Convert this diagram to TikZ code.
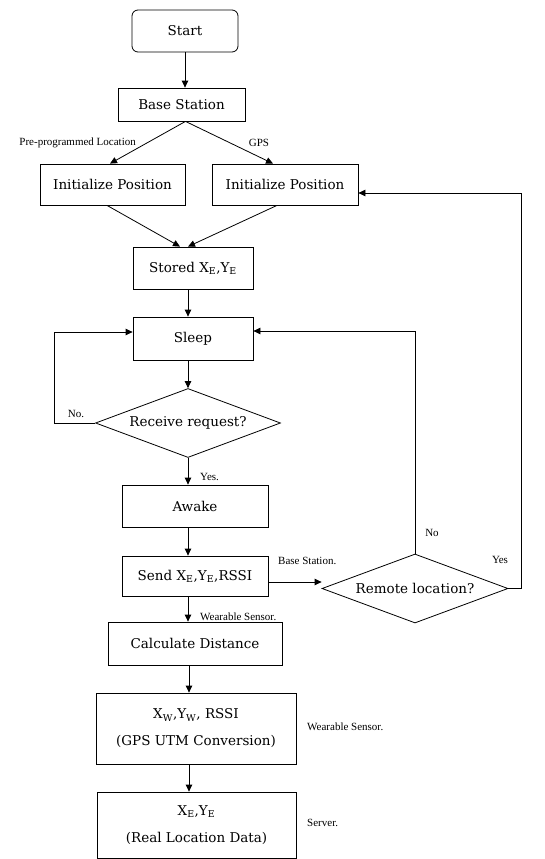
\documentclass[tikz,border=0pt]{standalone}
\usepackage{fontspec}
\setmainfont{DejaVu Serif}
\newfontfamily\labfont{Liberation Serif}
\usetikzlibrary{shapes.geometric,arrows.meta}
\begin{document}
\begin{tikzpicture}[x=1pt,y=-1pt,
  box/.style={draw, line width=0.8pt, inner sep=0pt, align=center,
    font=\fontsize{13.5}{27}\selectfont},
  decision/.style={draw, line width=0.8pt, diamond, inner sep=0pt, aspect=2.68,
    font=\fontsize{13.5}{16}\selectfont},
  arr/.style={line width=0.8pt, -{Triangle[length=7pt,width=6.5pt]}},
  lab/.style={font=\labfont\fontsize{11}{13}\selectfont, inner sep=0pt}]
\useasboundingbox (0,0) rectangle (545,859);

% main column of steps
\node[box, rounded corners=6pt, minimum width=106pt, minimum height=42pt] (start) at (185,31) {Start};
\node[box, minimum width=127pt, minimum height=33pt] (base) at (181.5,104.5) {Base Station};
\node[box, minimum width=145pt, minimum height=41pt] (initL) at (112.5,184.5) {Initialize Position};
\node[box, minimum width=146pt, minimum height=41pt] (initR) at (285,184.5) {Initialize Position};
\node[box, minimum width=120pt, minimum height=42pt] (stored) at (193,268) {Stored X\textsubscript{E},Y\textsubscript{E}};
\node[box, minimum width=120pt, minimum height=43pt] (sleep) at (193,338.5) {Sleep};
\node[decision, minimum width=185pt, minimum height=69pt] (recv) at (188,423) {Receive request?};
\node[box, minimum width=146pt, minimum height=42pt] (awake) at (195,506) {Awake};
\node[box, minimum width=146pt, minimum height=40pt] (send) at (195,576) {Send X\textsubscript{E},Y\textsubscript{E},RSSI};
\node[decision, minimum width=186pt, minimum height=69pt] (remote) at (415,588.5) {Remote location?};
\node[box, minimum width=174pt, minimum height=43pt] (calc) at (195,643.5) {Calculate Distance};
\node[box, minimum width=200pt, minimum height=71pt] (xw) at (196,728.5) {X\textsubscript{W},Y\textsubscript{W}, RSSI\\(GPS UTM Conversion)};
\node[box, minimum width=199pt, minimum height=66pt] (xe) at (196.5,825) {X\textsubscript{E},Y\textsubscript{E}\\(Real Location Data)};

% vertical spine of the flow
\coordinate (spine) at (188,0);

\draw[arr] (start.south -| 185,0) -- (base.north -| 185,0);
\draw[arr] ([xshift=4pt]base.south) -- (initL.north -| 110,0);
\draw[arr] ([xshift=4pt]base.south) -- (initR.north -| 273,0);
\draw[arr] (initL.south -| 107,0) -- (stored.north -| 180,0);
\draw[arr] (initR.south -| 277,0) -- (stored.north -| 188,0);
\draw[arr] (stored.south -| spine) -- (sleep.north -| spine);
\draw[arr] (sleep.south -| spine) -- (recv.north);
\draw[arr] (recv.south) -- (awake.north -| spine);
\draw[arr] (awake.south -| spine) -- (send.north -| spine);
\draw[arr] (send.south -| spine) -- (calc.north -| spine);
\draw[arr] (calc.south -| 189,0) -- (xw.north -| 189,0);
\draw[arr] (xw.south -| 189,0) -- (xe.north -| 189,0);

% loops back to earlier steps
\draw[arr] (recv.west) -- (54,423) |- ([yshift=6.5pt]sleep.west);
\draw[arr] (remote.north) |- ([yshift=7.5pt]sleep.east);
\draw[arr] (remote.east) -- (521,588.5) |- ([yshift=-8.5pt]initR.east);
\draw[arr] ([yshift=-6pt]send.east) coordinate (s1) -- (s1 -| remote.west);

% branch labels
\node[lab, anchor=east] (lpre) at (136,143) {Pre-programmed Location};
\node[lab] (lgps) at (259,143) {GPS};
\node[lab] (lno1) at (76,414) {No.};
\node[lab, anchor=west] (lyes1) at (200,477) {Yes.};
\node[lab] (lno2) at (432,533) {No};
\node[lab] (lyes2) at (500,560) {Yes};
\node[lab, anchor=west] (lbase) at (278,561) {Base Station.};
\node[lab, anchor=west] (lws1) at (200,617) {Wearable Sensor.};
\node[lab, anchor=west] (lws2) at (307,727) {Wearable Sensor.};
\node[lab, anchor=west] (lserv) at (307,823) {Server.};
\end{tikzpicture}
\end{document}
